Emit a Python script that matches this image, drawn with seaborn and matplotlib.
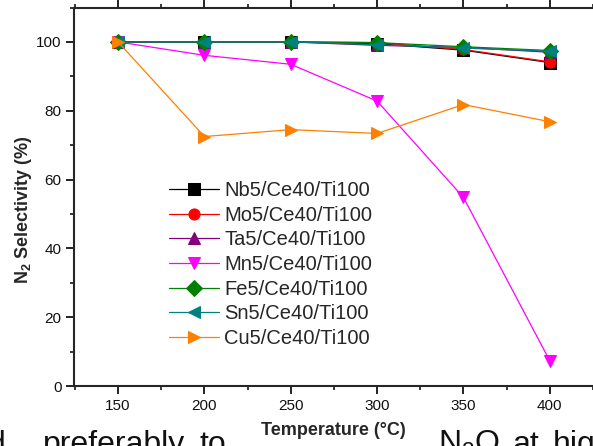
import numpy as np
import pandas as pd
import matplotlib
matplotlib.use("Agg")
import matplotlib.pyplot as plt
from matplotlib.ticker import MultipleLocator
import seaborn as sns

# data
temps = [150, 200, 250, 300, 350, 400]
nb = [100, 100, 100, 99.5, 97.6, 94.0]
mo = [100, 100, 100, 99.8, 97.8, 94.2]
ta = [100, 100, 100, 99.0, 98.4, 97.0]
mn = [100, 96.1, 93.5, 82.8, 54.8, 7.3]
fe = [100, 100, 100, 99.8, 98.6, 97.5]
sn = [100, 100, 100, 99.2, 98.2, 97.3]
cu = [100, 72.5, 74.5, 73.4, 81.8, 76.8]

labels = ["Nb5/Ce40/Ti100", "Mo5/Ce40/Ti100", "Ta5/Ce40/Ti100", "Mn5/Ce40/Ti100",
          "Fe5/Ce40/Ti100", "Sn5/Ce40/Ti100", "Cu5/Ce40/Ti100"]
series = [nb, mo, ta, mn, fe, sn, cu]
colors = ["#000000", "#ff0000", "#800080", "#ff00ff", "#008000", "#008080", "#ff8000"]
markers = ["s", "o", "^", "v", "D", "<", ">"]

sns.set_style("ticks")
plt.rcParams["font.family"] = ["Liberation Sans", "DejaVu Sans"]
plt.rcParams["mathtext.fontset"] = "custom"
plt.rcParams["mathtext.rm"] = "Liberation Sans"
plt.rcParams["mathtext.bf"] = "Liberation Sans:bold"

fig = plt.figure(figsize=(5.93, 4.46), dpi=100)
ax = fig.add_axes([74 / 593, 1 - 386 / 446, (593 - 74) / 593, (386 - 7.5) / 446])

for lab, vals, c, m in zip(labels, series, colors, markers):
    df = pd.DataFrame({"T": temps, "S": vals})
    sns.lineplot(data=df, x="T", y="S", ax=ax, color=c, marker=m, markersize=8,
                 markeredgecolor=c, linewidth=0.9, label=lab)

ax.set_xlim(124.5, 425)
ax.set_ylim(0, 110)
ax.xaxis.set_major_locator(MultipleLocator(50))
ax.xaxis.set_minor_locator(MultipleLocator(25))
ax.yaxis.set_major_locator(MultipleLocator(20))
ax.yaxis.set_minor_locator(MultipleLocator(10))
ax.tick_params(which="major", length=6, width=1.3, labelsize=11, pad=3, colors="#111111")
ax.tick_params(which="minor", length=3, width=1.3)
ax.tick_params(axis="x", which="both", top=True)
for s in ["left", "bottom", "top"]:
    ax.spines[s].set_linewidth(1.5)
ax.spines["right"].set_visible(False)

ax.set_xlabel("Temperature (°C)", fontsize=13, fontweight="bold")
ax.set_ylabel(r"N$_\mathbf{2}$ Selectivity (%)", fontsize=13, fontweight="bold")
ax.xaxis.set_label_coords(0.5, -0.095)
ax.yaxis.set_label_coords(-0.077, 0.465)

ax.legend(loc="upper left", bbox_to_anchor=(169 / 593, 1 - 181 / 446),
          bbox_transform=fig.transFigure, frameon=False, fontsize=14.5,
          handlelength=2.5, handletextpad=0.25, labelspacing=0.28,
          borderpad=0, borderaxespad=0, markerscale=1.0)

# fragments of the surrounding page text
base = 1 - 453 / 446
for txt, px in [("d,", -12), ("preferably", 43), ("to", 200),
                ("N$_2$O", 438), ("at", 513), ("hig", 553)]:
    fig.text(px / 593, base, txt, fontsize=23, va="baseline", ha="left", color="#111111")

fig.savefig("out.png", dpi=100)
